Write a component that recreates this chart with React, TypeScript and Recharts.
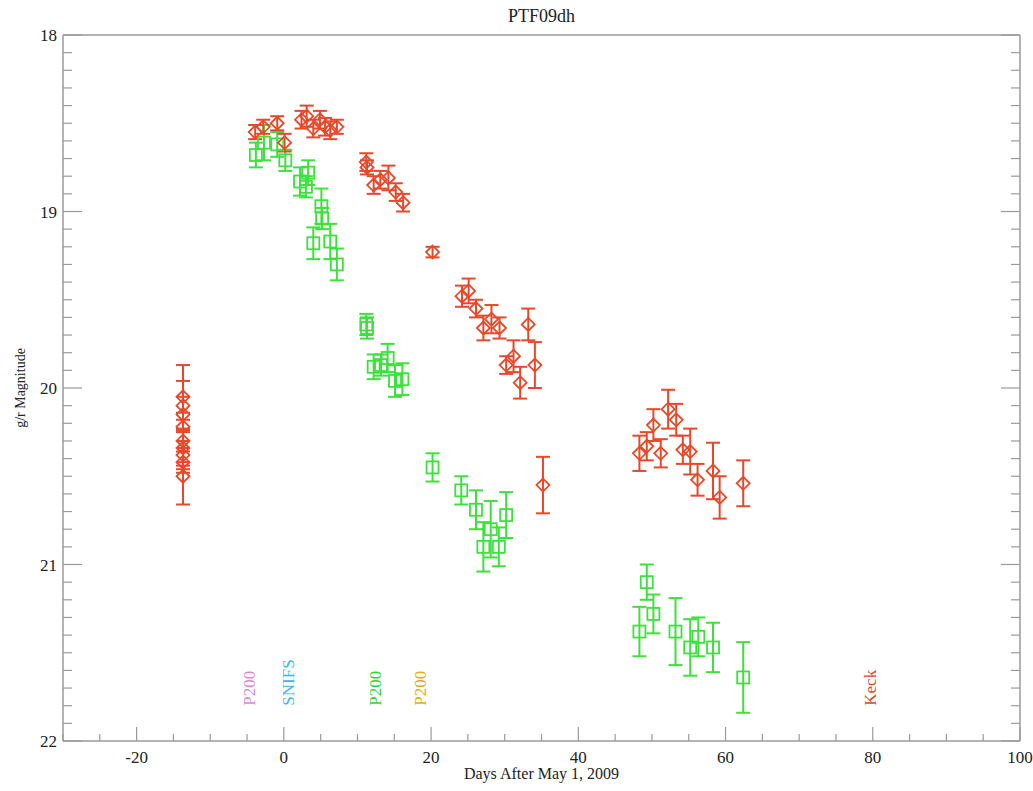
import {
  ComposedChart,
  Scatter,
  ErrorBar,
  XAxis,
  YAxis,
  ReferenceDot,
} from 'recharts';

// r-band photometry (diamonds)
const rDays = [
  -13.7, -13.7, -13.7, -13.7, -13.7, -13.7, -13.7, -13.7, -13.7,
  -3.9, -2.8, -0.9, 0.1, 2.4, 3.1, 4.0, 4.9, 5.6, 6.3, 7.2,
  11.2, 11.3, 12.2, 13.1, 14.2, 15.2, 16.2, 20.2,
  24.2, 25.1, 26.1, 27.1, 28.2, 29.3, 30.2, 31.2, 32.1, 33.2, 34.1, 35.2,
  48.3, 49.3, 50.2, 51.2, 52.2, 53.3, 54.2, 55.2, 56.2, 58.3, 59.2, 62.4,
];
const rMags = [
  20.05, 20.1, 20.15, 20.22, 20.3, 20.34, 20.38, 20.42, 20.5,
  18.55, 18.52, 18.5, 18.61, 18.48, 18.46, 18.53, 18.48, 18.52, 18.54, 18.52,
  18.72, 18.75, 18.85, 18.82, 18.81, 18.89, 18.95, 19.23,
  19.48, 19.45, 19.55, 19.66, 19.61, 19.66, 19.87, 19.82, 19.97, 19.64, 19.87, 20.55,
  20.37, 20.33, 20.21, 20.37, 20.12, 20.18, 20.35, 20.36, 20.52, 20.47, 20.62, 20.54,
];
const rErrs = [
  0.18, 0.14, 0.1, 0.08, 0.12, 0.1, 0.08, 0.06, 0.16,
  0.04, 0.04, 0.04, 0.05, 0.05, 0.06, 0.05, 0.05, 0.05, 0.05, 0.04,
  0.05, 0.04, 0.05, 0.05, 0.07, 0.05, 0.05, 0.03,
  0.06, 0.07, 0.05, 0.07, 0.08, 0.06, 0.05, 0.09, 0.09, 0.09, 0.13, 0.16,
  0.1, 0.08, 0.09, 0.08, 0.11, 0.09, 0.08, 0.13, 0.09, 0.16, 0.12, 0.13,
];

// g-band photometry (squares)
const gDays = [
  -3.8, -2.7, -0.9, 0.2, 2.2, 3.0, 3.3, 4.0, 5.1, 5.2, 6.3, 7.2,
  11.2, 11.3, 12.2, 13.2, 14.1, 15.1, 16.1, 20.2,
  24.1, 26.1, 27.1, 28.1, 29.2, 30.2,
  48.3, 49.3, 50.2, 53.2, 55.2, 56.3, 58.3, 62.4,
];
const gMags = [
  18.68, 18.61, 18.62, 18.71, 18.83, 18.86, 18.78, 19.18, 18.97, 19.04, 19.17, 19.3,
  19.64, 19.66, 19.88, 19.87, 19.83, 19.96, 19.95, 20.45,
  20.58, 20.69, 20.9, 20.8, 20.9, 20.72,
  21.38, 21.1, 21.28, 21.38, 21.47, 21.41, 21.47, 21.64,
];
const gErrs = [
  0.07, 0.1, 0.07, 0.06, 0.08, 0.06, 0.07, 0.09, 0.1, 0.06, 0.1, 0.09,
  0.06, 0.06, 0.07, 0.06, 0.08, 0.09, 0.09, 0.08,
  0.08, 0.11, 0.14, 0.16, 0.11, 0.13,
  0.14, 0.1, 0.11, 0.19, 0.16, 0.11, 0.14, 0.2,
];

// spectroscopy epochs marked along the bottom
const specLabels = ['P200', 'SNIFS', 'P200', 'P200', 'Keck'];
const specDays = [-4.6, 0.7, 12.4, 18.6, 79.7];
const specColors = ['#d98ad9', '#3cb8e8', '#34d234', '#e8aa1a', '#e0492a'];

const xMajorTicks = [-20, 0, 20, 40, 60, 80, 100];
const yMajorTicks = [18, 19, 20, 21, 22];
const xMinorTicks = Array.from({ length: 27 }, (_, i) => -30 + i * 5);
const yMinorTicks = Array.from({ length: 41 }, (_, i) => Math.round((18 + i * 0.1) * 10) / 10);

const RED = '#e8482a';
const GREEN = '#3ee03e';
const FRAME = '#9a9a9a';
const FONT = '"Liberation Serif", "DejaVu Serif", serif';

const rData = rDays.map((d, i) => ({ day: d, mag: rMags[i], err: rErrs[i] }));
const gData = gDays.map((d, i) => ({ day: d, mag: gMags[i], err: gErrs[i] }));

const Diamond = ({ cx, cy }: any) => (
  <path
    d={`M${cx},${cy - 6.5} L${cx + 6.5},${cy} L${cx},${cy + 6.5} L${cx - 6.5},${cy} Z`}
    fill="none"
    stroke={RED}
    strokeWidth={1.8}
  />
);

const Square = ({ cx, cy }: any) => (
  <rect x={cx - 6} y={cy - 6} width={12} height={12} fill="none" stroke={GREEN} strokeWidth={1.8} />
);

const isMajorMag = (v: number) => yMajorTicks.some((t) => Math.abs(t - v) < 1e-6);

// ticks point into the plot box, IDL style
const BottomTick = ({ x, y, payload }: any) => {
  const major = xMajorTicks.includes(payload.value);
  return (
    <g>
      <line x1={x} x2={x} y1={y} y2={y - (major ? 14 : 7)} stroke={FRAME} strokeWidth={1.2} />
      {major && (
        <text x={x} y={y + 22} textAnchor="middle" fontFamily={FONT} fontSize={17} fill="#222">
          {payload.value}
        </text>
      )}
    </g>
  );
};

const TopTick = ({ x, y, payload }: any) => {
  const major = xMajorTicks.includes(payload.value);
  return <line x1={x} x2={x} y1={y} y2={y + (major ? 14 : 7)} stroke={FRAME} strokeWidth={1.2} />;
};

const LeftTick = ({ x, y, payload }: any) => {
  const major = isMajorMag(payload.value);
  return (
    <g>
      <line x1={x} x2={x + (major ? 19 : 9)} y1={y} y2={y} stroke={FRAME} strokeWidth={1.2} />
      {major && (
        <text x={x - 6} y={y + 6} textAnchor="end" fontFamily={FONT} fontSize={17} fill="#222">
          {Math.round(payload.value)}
        </text>
      )}
    </g>
  );
};

const RightTick = ({ x, y, payload }: any) => {
  const major = isMajorMag(payload.value);
  return <line x1={x} x2={x - (major ? 19 : 9)} y1={y} y2={y} stroke={FRAME} strokeWidth={1.2} />;
};

export default function App() {
  return (
    <div style={{ position: 'absolute', left: 0, top: 0, width: 1033, height: 791, background: '#fff' }}>
      <ComposedChart width={1033} height={791} margin={{ top: 34, right: 12, bottom: 49, left: 62 }}>
        <XAxis
          xAxisId="bottom"
          type="number"
          dataKey="day"
          domain={[-30, 100]}
          allowDataOverflow
          ticks={xMinorTicks}
          interval={0}
          height={1}
          tickSize={0}
          tickMargin={0}
          tickLine={false}
          axisLine={{ stroke: FRAME, strokeWidth: 1.5 }}
          tick={<BottomTick />}
        />
        <XAxis
          xAxisId="top"
          orientation="top"
          type="number"
          domain={[-30, 100]}
          allowDataOverflow
          ticks={xMinorTicks}
          interval={0}
          height={1}
          tickSize={0}
          tickMargin={0}
          tickLine={false}
          axisLine={{ stroke: FRAME, strokeWidth: 1.5 }}
          tick={<TopTick />}
        />
        <YAxis
          yAxisId="left"
          type="number"
          dataKey="mag"
          domain={[18, 22]}
          reversed
          allowDataOverflow
          ticks={yMinorTicks}
          interval={0}
          width={1}
          tickSize={0}
          tickMargin={0}
          tickLine={false}
          axisLine={{ stroke: FRAME, strokeWidth: 1.5 }}
          tick={<LeftTick />}
        />
        <YAxis
          yAxisId="right"
          orientation="right"
          type="number"
          domain={[18, 22]}
          reversed
          allowDataOverflow
          ticks={yMinorTicks}
          interval={0}
          width={1}
          tickSize={0}
          tickMargin={0}
          tickLine={false}
          axisLine={{ stroke: FRAME, strokeWidth: 1.5 }}
          tick={<RightTick />}
        />

        <Scatter
          xAxisId="bottom"
          yAxisId="left"
          data={gData}
          dataKey="mag"
          shape={<Square />}
          isAnimationActive={false}
        >
          <ErrorBar dataKey="err" direction="y" width={7} stroke={GREEN} strokeWidth={2} isAnimationActive={false} />
        </Scatter>
        <Scatter
          xAxisId="bottom"
          yAxisId="left"
          data={rData}
          dataKey="mag"
          shape={<Diamond />}
          isAnimationActive={false}
        >
          <ErrorBar dataKey="err" direction="y" width={7} stroke={RED} strokeWidth={2} isAnimationActive={false} />
        </Scatter>

        {specLabels.map((label, i) => (
          <ReferenceDot
            key={i}
            xAxisId="bottom"
            yAxisId="left"
            x={specDays[i]}
            y={21.8}
            r={0}
            shape={(p: any) => (
              <text
                x={p.cx}
                y={p.cy}
                transform={`rotate(-90 ${p.cx} ${p.cy})`}
                textAnchor="start"
                dominantBaseline="central"
                fontFamily={FONT}
                fontSize={17}
                fill={specColors[i]}
              >
                {label}
              </text>
            )}
          />
        ))}
      </ComposedChart>

      <div style={{ position: 'absolute', left: 63, width: 957, top: 6, textAlign: 'center', fontFamily: FONT, fontSize: 18, color: '#222' }}>
        PTF09dh
      </div>
      <div style={{ position: 'absolute', left: 63, width: 957, top: 765, textAlign: 'center', fontFamily: FONT, fontSize: 16, color: '#222' }}>
        Days After May 1, 2009
      </div>
      <div
        style={{
          position: 'absolute',
          left: 21,
          top: 388,
          transform: 'translate(-50%, -50%) rotate(-90deg)',
          whiteSpace: 'nowrap',
          fontFamily: FONT,
          fontSize: 14,
          color: '#222',
        }}
      >
        g/r Magnitude
      </div>
    </div>
  );
}
